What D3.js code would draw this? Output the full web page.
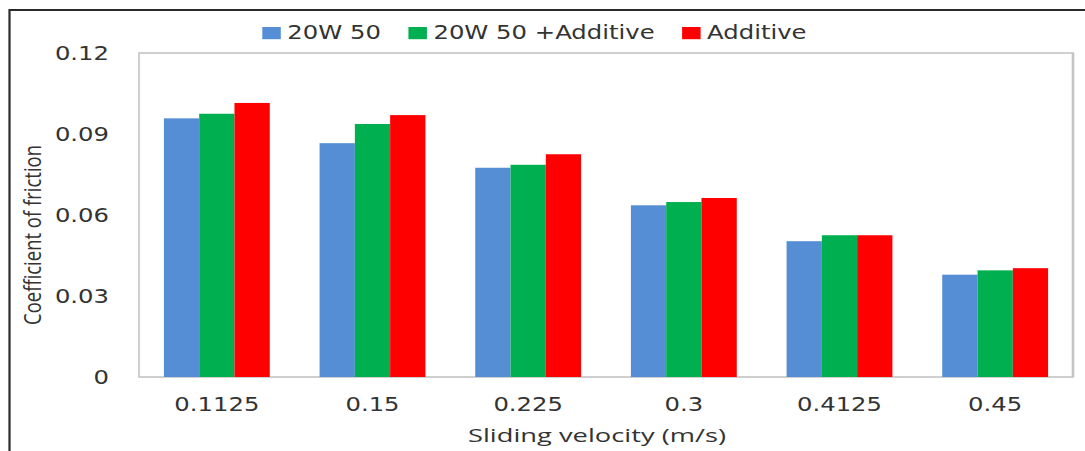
<!DOCTYPE html>
<html>
<head>
<meta charset="utf-8">
<script src="https://cdn.jsdelivr.net/npm/d3@7"></script>
<style>
  html, body { margin: 0; padding: 0; background: #fff; }
  svg { display: block; }
</style>
</head>
<body>
<svg id="chart" width="1085" height="451"></svg>
<script>
// ---- data ----
const categories = ["0.1125", "0.15", "0.225", "0.3", "0.4125", "0.45"];
const seriesNames = ["20W 50", "20W 50 +Additive", "Additive"];
const base20W50 = [0.0958, 0.0866, 0.0775, 0.0636, 0.0503, 0.0379];
const withAdditive = [0.0975, 0.0937, 0.0786, 0.0648, 0.0525, 0.0395];
const additiveOnly = [0.1015, 0.0970, 0.0825, 0.0663, 0.0525, 0.0403];
const yTickValues = [0, 0.03, 0.06, 0.09, 0.12];
const yTickLabels = ["0", "0.03", "0.06", "0.09", "0.12"];
const xTitle = "Sliding velocity (m/s)";
const yTitle = "Coefficient of friction";

// ---- layout / style ----
const colors = ["#558ed5", "#00b050", "#ff0000"];
const SX = 1.28; // horizontal stretch of the original picture
const plot = { left: 139, right: 1073, top: 53, bottom: 377 };
const svg = d3.select("#chart");

const seriesValues = [base20W50, withAdditive, additiveOnly];
const rows = categories.map((c, i) => ({ cat: c, vals: seriesValues.map(s => s[i]) }));

const x0 = d3.scaleBand().domain(categories).range([plot.left, plot.right]).padding(0);
const bw = x0.bandwidth();
const x1 = d3.scaleBand().domain(d3.range(seriesNames.length)).range([0.16 * bw, 0.84 * bw]).padding(0);
const y = d3.scaleLinear().domain([0, 0.12]).range([plot.bottom, plot.top]);

// outer frame (left + top)
svg.append("path")
  .attr("d", `M9.5,451 L9.5,10 L1085,10`)
  .attr("fill", "none").attr("stroke", "#2b2b2b").attr("stroke-width", 2.2);

// plot area border
svg.append("rect")
  .attr("x", plot.left).attr("y", plot.top)
  .attr("width", plot.right - plot.left).attr("height", plot.bottom - plot.top)
  .attr("fill", "none").attr("stroke", "#c4c4c4").attr("stroke-width", 1.6);
svg.append("line")
  .attr("x1", plot.right).attr("x2", plot.right).attr("y1", plot.top).attr("y2", plot.bottom)
  .attr("stroke", "#c4c4c4").attr("stroke-width", 2.6);

// bars
const groups = svg.append("g").selectAll("g").data(rows).join("g")
  .attr("transform", d => `translate(${x0(d.cat)},0)`);
groups.selectAll("rect").data(d => d.vals.map((v, k) => ({ v, k }))).join("rect")
  .attr("x", d => x1(d.k))
  .attr("width", x1.bandwidth())
  .attr("y", d => y(d.v))
  .attr("height", d => y(0) - y(d.v))
  .attr("fill", d => colors[d.k]);

// y axis
const yAxis = svg.append("g").attr("transform", `translate(${plot.left},0)`)
  .call(d3.axisLeft(y).tickValues(yTickValues).tickFormat((d, i) => yTickLabels[i]).tickSize(0).tickPadding(30));
yAxis.select(".domain").remove();
yAxis.selectAll("text")
  .attr("font-family", "DejaVu Sans").attr("font-size", 19).attr("fill", "#333")
  .attr("x", -30 / SX).attr("dy", "0.36em")
  .attr("transform", `scale(${SX},1)`);

// x axis
const xAxis = svg.append("g").attr("transform", `translate(0,${plot.bottom})`)
  .call(d3.axisBottom(x0).tickSize(0));
xAxis.select(".domain").remove();
xAxis.selectAll("text")
  .attr("font-family", "DejaVu Sans").attr("font-size", 19).attr("fill", "#333")
  .attr("y", 34).attr("dy", null)
  .attr("transform", `scale(${SX},1)`)
  .attr("x", 0);
xAxis.selectAll(".tick").each(function () {
  // keep tick centred under the scaled label
  const t = d3.select(this).attr("transform");
  const m = /translate\(([-\d.]+),/.exec(t);
  const cx = +m[1];
  d3.select(this).attr("transform", `translate(${cx},0)`);
});

// axis titles
svg.append("text")
  .attr("x", 597).attr("y", 441.5)
  .attr("text-anchor", "middle")
  .attr("font-family", "Open Sans").attr("font-size", 18.5).attr("fill", "#333")
  .attr("textLength", 258).attr("lengthAdjust", "spacingAndGlyphs")
  .text(xTitle);

svg.append("text")
  .attr("transform", `translate(41,235) scale(1.3,1) rotate(-90)`)
  .attr("text-anchor", "middle")
  .attr("font-family", "Open Sans").attr("font-size", 18).attr("fill", "#333")
  .attr("textLength", 180).attr("lengthAdjust", "spacingAndGlyphs")
  .text(yTitle);

// legend
const legend = svg.append("g");
let lx = 262.3;
seriesNames.forEach((name, k) => {
  legend.append("rect")
    .attr("x", lx).attr("y", 27).attr("width", 18.5).attr("height", 12.2)
    .attr("fill", colors[k]);
  lx += 18.5 + 6.5;
  const t = legend.append("text")
    .attr("font-family", "DejaVu Sans").attr("font-size", 19).attr("fill", "#333")
    .attr("transform", `translate(${lx},39) scale(${SX},1)`)
    .text(name);
  const w = t.node().getComputedTextLength() * SX;
  lx += w + 27.5;
});
</script>
</body>
</html>
